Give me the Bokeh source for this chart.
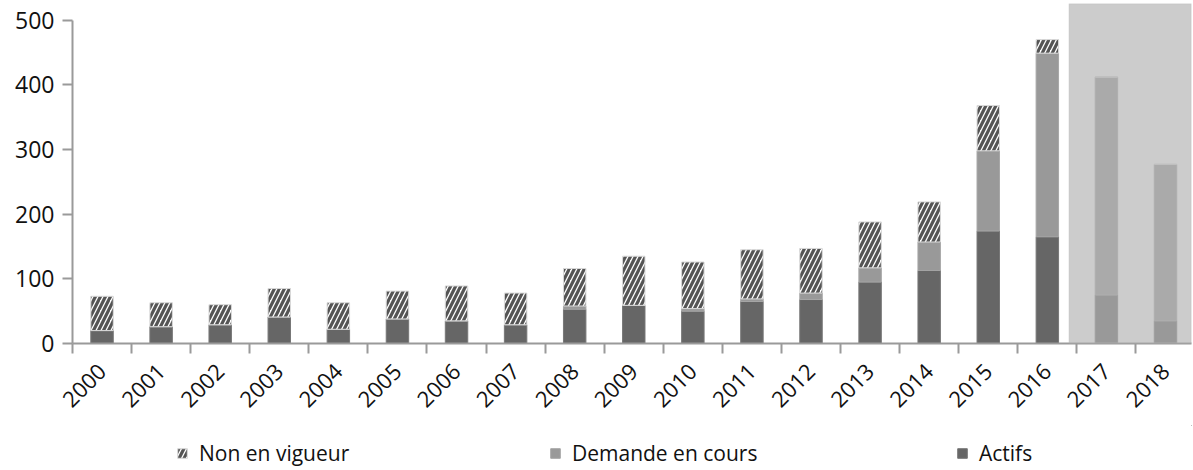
import math
from bokeh.plotting import figure
from bokeh.layouts import column
from bokeh.models import (Range1d, FixedTicker, BoxAnnotation, Legend, LegendItem)
from bokeh.embed import file_html
from bokeh.resources import INLINE

# ---- data ----
years = [str(y) for y in range(2000, 2019)]
actifs = [20, 26, 29, 41, 22, 38, 35, 29, 53, 59, 50, 65, 68, 95, 113, 174, 165, 75, 35]
demande = [0, 0, 0, 0, 0, 0, 0, 0, 5, 0, 4, 4, 10, 22, 44, 124, 284, 337, 242]
non_vigueur = [53, 37, 31, 44, 41, 43, 54, 49, 58, 76, 72, 76, 69, 71, 62, 70, 21, 0, 0]
y_ticks = [0, 100, 200, 300, 400, 500]
shade_from_year = 16.87  # start of the shaded (forecast) region, in year-slot units

FONT = "Open Sans"
C_ACT, C_DEM, C_HATCH = "#666666", "#999999", "#555555"
n = len(years)
centers = [i + 0.5 for i in range(n)]
bounds = list(range(n))

top_a = actifs
top_d = [a + d for a, d in zip(actifs, demande)]
top_n = [t + v for t, v in zip(top_d, non_vigueur)]

p = figure(width=1193, height=425, output_backend="svg", toolbar_location=None,
           x_range=Range1d(0, 18.94), y_range=Range1d(0, 525.8),
           min_border_left=72, min_border_right=2, min_border_top=3,
           min_border_bottom=82)
p.outline_line_color = None
p.grid.visible = False

BW = 0.38
act_style = dict(fill_color=C_ACT, line_color="#777777", line_width=1)
dem_style = dict(fill_color=C_DEM, line_color="#a6a6a6", line_width=1)
nv_style = dict(fill_color="white", line_color="#d8d8d8", line_width=1,
                hatch_pattern="/", hatch_color=C_HATCH, hatch_scale=10, hatch_weight=3.2)

r_a = p.vbar(x=centers, width=BW, bottom=0, top=top_a, **act_style)
r_d = p.vbar(x=centers, width=BW, bottom=top_a, top=top_d, **dem_style)
r_n = p.vbar(x=centers, width=BW, bottom=top_d, top=top_n, **nv_style)

shade = BoxAnnotation(left=shade_from_year, bottom=0, fill_color="#b3b3b3",
                      fill_alpha=0.667, line_color="#b0b0b0", line_width=1.5)
p.add_layout(shade)

# x axis
xa = p.xaxis[0]
xa.ticker = FixedTicker(ticks=centers, minor_ticks=bounds)
xa.major_label_overrides = {c: y for c, y in zip(centers, years)}
xa.major_tick_out = 0
xa.major_tick_in = 0
xa.minor_tick_out = 10
xa.minor_tick_in = 0
xa.minor_tick_line_color = "#9a9a9a"
xa.minor_tick_line_width = 2
xa.axis_line_color = "#9a9a9a"
xa.axis_line_width = 2
xa.major_label_orientation = math.pi / 4
xa.major_label_standoff = 14
xa.major_label_text_font = FONT
xa.major_label_text_font_size = "22px"
xa.major_label_text_color = "#111111"

# y axis
ya = p.yaxis[0]
ya.ticker = FixedTicker(ticks=y_ticks)
ya.bounds = (0, 500)
ya.major_tick_out = 10
ya.major_tick_in = 0
ya.minor_tick_out = 0
ya.minor_tick_in = 0
ya.major_tick_line_color = "#9a9a9a"
ya.major_tick_line_width = 2
ya.axis_line_color = "#9a9a9a"
ya.axis_line_width = 2
ya.major_label_standoff = 8
ya.major_label_text_font = FONT
ya.major_label_text_font_size = "23px"
ya.major_label_text_color = "#111111"

# legend strip below the chart (frame aligned with the chart's frame)
lf = figure(width=1193, height=43, output_backend="svg", toolbar_location=None,
            x_range=Range1d(0, 1), y_range=Range1d(0, 1),
            x_axis_location=None, y_axis_location=None, min_border=0)
lf.outline_line_color = None
lf.grid.visible = False
# proxy glyphs (outside the visible range) that carry the legend swatch styles
d_n = lf.vbar(x=[5], width=0.1, bottom=[5], top=[6], **nv_style)
d_d = lf.vbar(x=[5], width=0.1, bottom=[5], top=[6], **dem_style)
d_a = lf.vbar(x=[5], width=0.1, bottom=[5], top=[6], **act_style)

for label, rend, xloc in [("Non en vigueur", d_n, 104),
                          ("Demande en cours", d_d, 477),
                          ("Actifs", d_a, 884)]:
    lg = Legend(items=[LegendItem(label=label, renderers=[rend])],
                location=(xloc, 1), orientation="horizontal",
                glyph_width=12, glyph_height=12, label_standoff=11,
                padding=0, margin=0, spacing=0,
                label_text_font=FONT, label_text_font_size="21px",
                label_text_color="#111111",
                border_line_alpha=0, background_fill_alpha=0)
    lf.add_layout(lg, "center")

layout = column(p, lf, spacing=0)
open("out.html", "w").write(file_html(layout, INLINE))
